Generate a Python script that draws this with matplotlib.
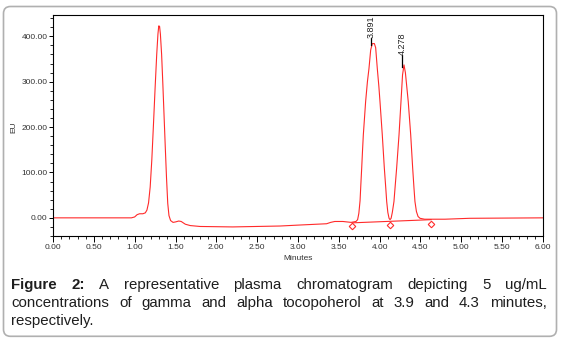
import matplotlib
matplotlib.use("Agg")
import matplotlib.pyplot as plt
from matplotlib.patches import FancyBboxPatch
from matplotlib.ticker import MultipleLocator, FormatStrFormatter

plt.rcParams['font.family'] = ['Liberation Sans', 'DejaVu Sans']

# Chromatogram trace (time in minutes, signal in EU)
minutes = [0.00, 0.96, 1.00, 1.03, 1.06, 1.10, 1.13, 1.15, 1.17, 1.19,
           1.21, 1.23, 1.25, 1.27, 1.285, 1.295, 1.305, 1.315, 1.33, 1.345,
           1.36, 1.375, 1.39, 1.405, 1.42, 1.44, 1.47, 1.50, 1.54, 1.57,
           1.62, 1.68, 1.80, 2.20, 2.78, 3.00, 3.35, 3.40, 3.45, 3.55,
           3.65, 3.71, 3.73, 3.745, 3.76, 3.77, 3.78, 3.79, 3.80, 3.815,
           3.828, 3.85, 3.869, 3.89, 3.91, 3.935, 3.951, 3.971, 3.99, 4.004,
           4.032, 4.057, 4.075, 4.086, 4.10, 4.115, 4.127, 4.14, 4.155, 4.175,
           4.19, 4.208, 4.237, 4.261, 4.28, 4.298, 4.315, 4.35, 4.38, 4.404,
           4.42, 4.432, 4.45, 4.47, 4.494, 4.55, 4.80, 5.10, 6.00]
eu = [0, 0, 2, 7, 9, 9, 11, 17, 33, 68,
      128, 205, 285, 360, 405, 423, 422, 405, 360, 295,
      225, 155, 88, 32, 5, -6, -10, -9, -7, -8,
      -14, -17, -19, -20, -18, -16, -13, -10, -8, -8,
      -10, -8, -4, 10, 38, 75, 110, 148, 183, 222,
      256, 300, 329, 370, 384, 384, 375, 329, 290, 256,
      183, 110, 65, 36, 12, -1, -4, -1, 12, 36,
      70, 110, 183, 256, 315, 337, 320, 256, 183, 110,
      66, 36, 14, 3, -1, -3, -3, -1, 0]

# integration baseline and its start / valley / end marks
base_t = [3.665, 4.63]
base_eu = [-11, -4]
mark_t = [3.665, 4.127, 4.63]
mark_eu = [-18, -16, -13]

# labelled peaks
peak_t = [3.891, 4.278]
peak_top = [380, 333]
peak_lbl_eu = [397, 358]
peak_labels = ["3.891", "4.278"]

caption_lines = [
    ["Figure", "2:", "A", "representative", "plasma", "chromatogram", "depicting", "5", "ug/mL"],
    ["concentrations", "of", "gamma", "and", "alpha", "tocopoherol", "at", "3.9", "and", "4.3", "minutes,"],
    ["respectively."],
]
bold_words = ["Figure", "2:"]

red = '#ff2a2a'

fig = plt.figure(figsize=(5.63, 3.41), dpi=100)
ax = fig.add_axes([53 / 563, 105 / 341, 490 / 563, 221 / 341])

ax.plot(minutes, eu, color=red, lw=0.8)
ax.plot(base_t, base_eu, color=red, lw=0.8)
ax.plot(mark_t, mark_eu, ls='none', marker='D', ms=3.3, mfc='white', mec=red, mew=0.8)

for t, top, ly, lbl in zip(peak_t, peak_top, peak_lbl_eu, peak_labels):
    ax.plot([t, t], [top, ly], color='black', lw=0.9)
    ax.text(t, ly, lbl, rotation=90, ha='center', va='bottom', fontsize=6.5, color='#222222')

ax.set_xlim(0, 6)
ax.set_ylim(-40, 447)
ax.xaxis.set_major_locator(MultipleLocator(0.5))
ax.xaxis.set_minor_locator(MultipleLocator(0.1))
ax.yaxis.set_major_locator(MultipleLocator(100))
ax.yaxis.set_minor_locator(MultipleLocator(20))
ax.xaxis.set_major_formatter(FormatStrFormatter('%.2f'))
ax.yaxis.set_major_formatter(FormatStrFormatter('%.2f'))
ax.tick_params(which='major', length=4, width=0.7, labelsize=6, colors='black', labelcolor='#333333', pad=2)
ax.tick_params(which='minor', length=2.5, width=0.6)
ax.tick_params(axis='y', which='major', length=3, pad=1)
for s in ax.spines.values():
    s.set_linewidth(0.8)

fig.text(13.5 / 563, 1 - 127 / 341, "EU", rotation=90, ha='center', va='center', fontsize=6, color='#333333')
fig.text(298 / 563, 1 - 258 / 341, "Minutes", ha='center', va='center', fontsize=6, color='#333333')

# rounded frame around the whole figure
frame = FancyBboxPatch((3.5, 4.7), 553, 329.8, boxstyle="round,pad=0,rounding_size=7",
                       transform=None, fc='none', ec='#b0b0b0', lw=1.2)
fig.patches.append(frame)

# justified caption
renderer = fig.canvas.get_renderer()
left, right = 11.5, 546.5
baselines = [341 - 288.7, 341 - 307, 341 - 324.5]
for i, (words, y) in enumerate(zip(caption_lines, baselines)):
    texts = []
    for w in words:
        texts.append(fig.text(0, y, w, transform=None, fontsize=10.8, va='baseline',
                              color='#1e1e1e',
                              fontweight='bold' if w in bold_words else 'normal'))
    widths = [t.get_window_extent(renderer).width for t in texts]
    if i < len(caption_lines) - 1:
        gap = (right - left - sum(widths)) / (len(texts) - 1)
    else:
        gap = 4
    x = left
    for t, w in zip(texts, widths):
        t.set_x(x)
        x += w + gap

fig.savefig("out.png", dpi=100)
